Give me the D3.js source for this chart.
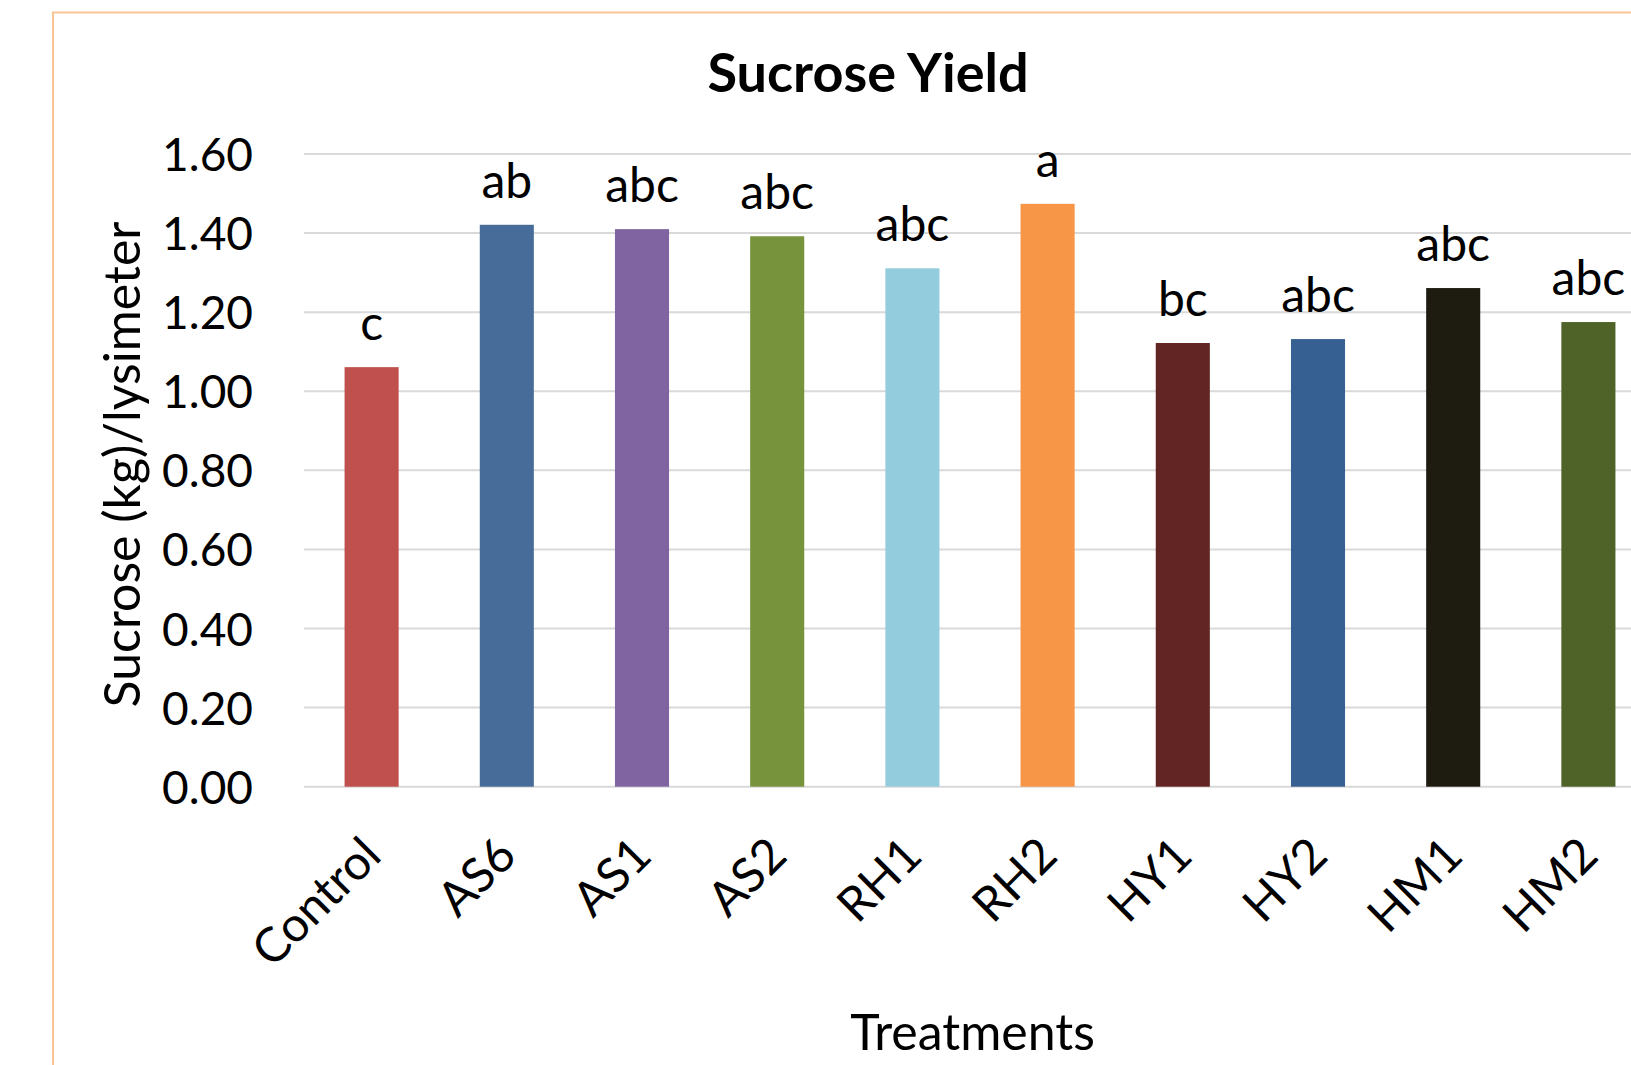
<!DOCTYPE html>
<html>
<head>
<meta charset="utf-8">
<script src="https://cdn.jsdelivr.net/npm/d3@7"></script>
<style>
  html, body { margin: 0; padding: 0; background: #fff; overflow: hidden; }
  svg text { font-family: Lato, 'Open Sans', sans-serif; fill: #000; }
</style>
</head>
<body>
<div id="chart"></div>
<script>
const categories = ['Control', 'AS6', 'AS1', 'AS2', 'RH1', 'RH2', 'HY1', 'HY2', 'HM1', 'HM2']
const values = [1.061, 1.421, 1.410, 1.392, 1.311, 1.474, 1.122, 1.132, 1.261, 1.175]
const letters = ['c', 'ab', 'abc', 'abc', 'abc', 'a', 'bc', 'abc', 'abc', 'abc']
const barColors = ['#C0504D', '#476C99', '#8064A2', '#77933C', '#93CDDD', '#F79646', '#632523', '#376092', '#1E1C11', '#4F6228']
const yTicks = [0, 0.2, 0.4, 0.6, 0.8, 1.0, 1.2, 1.4, 1.6]

const w = 1631, h = 1065
const svg = d3.select('#chart').append('svg').attr('width', w).attr('height', h)

// frame (cut off at right and bottom like the reference)
svg.append('rect').attr('x', 53).attr('y', 12.5).attr('width', w + 20).attr('height', h + 20)
  .attr('fill', '#fff').attr('stroke', '#F9C597').attr('stroke-width', 2)

// scales
const xScale = d3.scaleBand().domain(categories)
  .range([304, 1656]).paddingInner(0.6).paddingOuter(0.3)
const yScale = d3.scaleLinear().domain([0, 1.6]).range([786.7, 154])

// gridlines
svg.append('g').classed('grid', true).selectAll('line').data(yTicks)
  .enter().append('line')
  .attr('x1', 304).attr('x2', 1656)
  .attr('y1', d => yScale(d)).attr('y2', d => yScale(d))
  .attr('stroke', '#D9D9D9').attr('stroke-width', 2)

// y axis tick labels
const yAxis = d3.axisLeft(yScale).tickValues(yTicks).tickFormat(d3.format('.2f')).tickSize(0).tickPadding(0)
const yAxisDom = svg.append('g').attr('transform', 'translate(253,0)').call(yAxis)
yAxisDom.select('.domain').remove()
yAxisDom.selectAll('text').attr('font-size', 46).attr('font-family', 'Lato, sans-serif')
  .attr('fill', '#000').attr('dy', 16.5)

// bars
svg.append('g').classed('bars', true).selectAll('rect').data(values)
  .enter().append('rect')
  .attr('x', (d, i) => xScale(categories[i]))
  .attr('y', d => yScale(d))
  .attr('width', xScale.bandwidth())
  .attr('height', d => yScale(0) - yScale(d))
  .attr('fill', (d, i) => barColors[i])

// significance letters
svg.append('g').classed('letters', true).selectAll('text').data(letters)
  .enter().append('text')
  .text(d => d)
  .attr('x', (d, i) => xScale(categories[i]) + xScale.bandwidth() / 2)
  .attr('y', (d, i) => yScale(values[i]) - 27)
  .attr('text-anchor', 'middle')
  .attr('font-size', 48)

// x labels, rotated
svg.append('g').classed('x-labels', true).selectAll('text').data(categories)
  .enter().append('text')
  .text(d => d)
  .attr('text-anchor', 'end')
  .attr('font-size', 48)
  .attr('transform', d => `translate(${xScale(d) + xScale.bandwidth() / 2 + 12}, 858) rotate(-45)`)

// title and axis titles
svg.append('text').text('Sucrose Yield')
  .attr('x', 868).attr('y', 91.7).attr('text-anchor', 'middle')
  .attr('font-size', 54).attr('font-weight', 'bold')
svg.append('text').text('Treatments')
  .attr('x', 972.5).attr('y', 1050).attr('text-anchor', 'middle')
  .attr('font-size', 50)
svg.append('text').text('Sucrose (kg)/lysimeter')
  .attr('text-anchor', 'middle').attr('font-size', 50)
  .attr('transform', 'translate(140, 464.5) rotate(-90)')
</script>
</body>
</html>
